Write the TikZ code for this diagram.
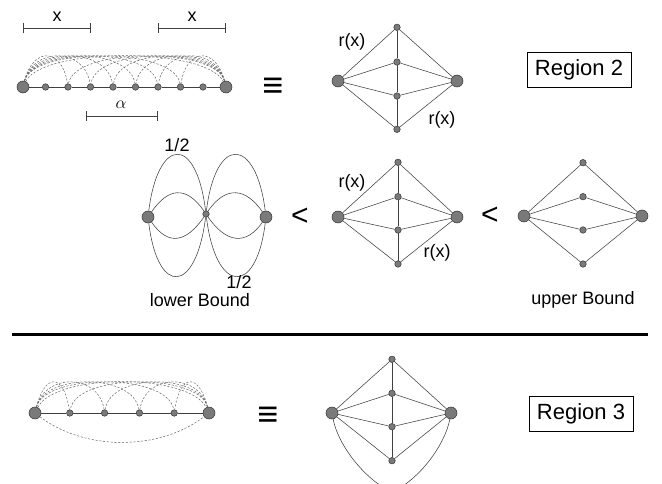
\documentclass[tikz,border=0pt]{standalone}
\usepackage{fontspec}
\setmainfont{Liberation Sans}
\usetikzlibrary{arrows.meta}

\begin{document}
\begin{tikzpicture}[
    x=1pt, y=-1pt,
    every node/.style={font=\fontsize{18}{20}\selectfont},
    bignode/.style={
        circle,
        draw=black!80,
        fill=black!52,
        line width=0.5pt,
        minimum size=12pt,
        inner sep=0pt
    },
    smallnode/.style={
        circle,
        draw=black!80,
        fill=black!52,
        line width=0.5pt,
        minimum size=6.5pt,
        inner sep=0pt
    },
    link/.style={draw=black!75, line width=0.55pt},
    hop/.style={draw=black!60, dash pattern=on 2.2pt off 1.6pt, line width=0.5pt},
    scalebar/.style={draw=black!75, line width=0.6pt, {Bar[width=10pt]}-{Bar[width=10pt]}},
    regionbox/.style={
        rectangle,
        draw,
        line width=0.8pt,
        minimum width=104pt,
        minimum height=35pt,
        font=\fontsize{22}{26}\selectfont
    },
    relsym/.style={font=\fontsize{36}{38}\selectfont},
    ltsym/.style={font=\fontsize{30}{32}\selectfont}
]

\clip (0,0) rectangle (662,484);
\useasboundingbox (0,0) rectangle (662,484);

% Region 2: chain with long hops
\node[bignode] (a0) at (23,87) {};
\node[bignode] (a9) at (226,87) {};
\foreach \i in {1,...,8}
    \node[smallnode] (a\i) at ({23+22.5*\i},87) {};
\foreach \i [evaluate=\i as \j using int(\i+1)] in {0,...,8}
    \draw[link] (a\i) -- (a\j);
\foreach \i in {2,...,7} {
    \draw[hop] (a0) .. controls +(10,-40) and +(-6,-40) .. (a\i);
    \draw[hop] (a9) .. controls +(-10,-40) and +(6,-40) .. (a\i);
}
\draw[hop] (a0) .. controls +(20,-40) and +(-20,-40) .. (a9);

% Scale bars
\coordinate (xa1) at (23,28);
\coordinate (xa2) at (91,28);
\coordinate (xb1) at (158,28);
\coordinate (xb2) at (226,28);
\coordinate (al1) at (86,116);
\coordinate (al2) at (158,116);
\draw[scalebar] (xa1) -- (xa2);
\draw[scalebar] (xb1) -- (xb2);
\draw[scalebar] (al1) -- (al2);
\node (xlab1) at (57,17) {x};
\node (xlab2) at (192,17) {x};
\node (alab) at (121,105) {$\alpha$};

\node[relsym] (eq1) at (273,88) {≡};

% Region 2: reduced graph
\node[bignode] (p0) at (338,81) {};
\node[bignode] (p5) at (457,81) {};
\node[smallnode] (p1) at (397,27.3) {};
\node[smallnode] (p2) at (397,62) {};
\node[smallnode] (p3) at (397,96) {};
\node[smallnode] (p4) at (397,129.3) {};
\foreach \k in {1,...,4}
    \draw[link] (p0) -- (p\k) -- (p5);
\draw[link] (p1) -- (p2) -- (p3) -- (p4);
\node (prx1) at (352,42) {r(x)};
\node (prx2) at (442,120) {r(x)};

\node[regionbox] (reg2) at (579,70) {Region 2};

% Lower bound
\node[bignode] (q0) at (148,217) {};
\node[smallnode] (q1) at (206,214) {};
\node[bignode] (q2) at (266,217) {};
\foreach \dx/\h in {10/-80, 20/-29, 20/29, 10/80} {
    \draw[link] (q0) .. controls +(\dx,\h) and +(-\dx,\h) .. (q1);
    \draw[link] (q1) .. controls +(\dx,\h) and +(-\dx,\h) .. (q2);
}
\node (half1) at (177,145) {1/2};
\node (half2) at (239,282) {1/2};
\node (lowlab) at (200,300) {lower Bound};

\node[ltsym] (lt1) at (300,217) {<};

% Middle graph
\node[bignode] (r0) at (338,217) {};
\node[bignode] (r5) at (457,217) {};
\node[smallnode] (r1) at (398,162.3) {};
\node[smallnode] (r2) at (398,196.7) {};
\node[smallnode] (r3) at (398,230) {};
\node[smallnode] (r4) at (398,264) {};
\foreach \k in {1,...,4}
    \draw[link] (r0) -- (r\k) -- (r5);
\draw[link] (r1) -- (r2) -- (r3) -- (r4);
\node (rrx1) at (352,183) {r(x)};
\node (rrx2) at (437,253) {r(x)};

\node[ltsym] (lt2) at (490,216) {<};

% Upper bound
\node[bignode] (s0) at (524,216) {};
\node[bignode] (s5) at (642,216) {};
\node[smallnode] (s1) at (583,162.7) {};
\node[smallnode] (s2) at (583,196.7) {};
\node[smallnode] (s3) at (583,230) {};
\node[smallnode] (s4) at (583,264) {};
\foreach \k in {1,...,4}
    \draw[link] (s0) -- (s\k) -- (s5);
\node (uplab) at (583,300) {upper Bound};

% Separator
\coordinate (sepL) at (12,334);
\coordinate (sepR) at (648,334);
\draw[line width=3pt] (sepL) -- (sepR);

% Region 3: chain
\node[bignode] (b0) at (35,413) {};
\node[bignode] (b5) at (209,413) {};
\foreach \i in {1,...,4}
    \node[smallnode] (b\i) at ({35+34.8*\i},413) {};
\foreach \i [evaluate=\i as \j using int(\i+1)] in {0,...,4}
    \draw[link] (b\i) -- (b\j);
\foreach \i in {1,...,4} {
    \draw[hop] (b0) .. controls +(10,-40) and +(-6,-40) .. (b\i);
    \draw[hop] (b5) .. controls +(-10,-40) and +(6,-40) .. (b\i);
}
\draw[hop] (b0) .. controls +(20,-40) and +(-20,-40) .. (b5);
\draw[hop] (b0) .. controls +(50,38) and +(-50,38) .. (b5);

\node[relsym] (eq2) at (268,417) {≡};

% Region 3: reduced graph
\node[bignode] (t0) at (332,413) {};
\node[bignode] (t5) at (451,413) {};
\node[smallnode] (t1) at (392,359.3) {};
\node[smallnode] (t2) at (392,393.3) {};
\node[smallnode] (t3) at (392,426.7) {};
\node[smallnode] (t4) at (392,460.7) {};
\foreach \k in {1,...,4}
    \draw[link] (t0) -- (t\k) -- (t5);
\draw[link] (t1) -- (t2) -- (t3) -- (t4);
\coordinate (tb) at (392,492);
\draw[link] (t0) .. controls +(6,32) and +(-27,-12) .. (tb);
\draw[link] (t5) .. controls +(-6,32) and +(27,-12) .. (tb);

\node[regionbox] (reg3) at (581,414) {Region 3};

\end{tikzpicture}
\end{document}
